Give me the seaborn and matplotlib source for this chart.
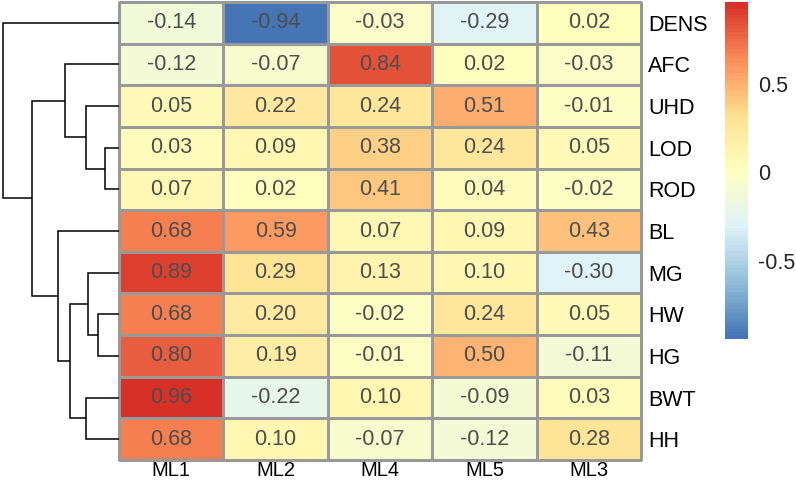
import numpy as np
import pandas as pd
import matplotlib
matplotlib.use("Agg")
import matplotlib.pyplot as plt
from matplotlib.colors import LinearSegmentedColormap, ListedColormap
import seaborn as sns

sns.set_style("white")
plt.rcParams['font.family'] = ['Liberation Sans', 'DejaVu Sans']

rows = ["DENS", "AFC", "UHD", "LOD", "ROD", "BL", "MG", "HW", "HG", "BWT", "HH"]
cols = ["ML1", "ML2", "ML4", "ML5", "ML3"]
ml1 = [-0.14, -0.12, 0.05, 0.03, 0.07, 0.68, 0.89, 0.68, 0.80, 0.96, 0.68]
ml2 = [-0.94, -0.07, 0.22, 0.09, 0.02, 0.59, 0.29, 0.20, 0.19, -0.22, 0.10]
ml4 = [-0.03, 0.84, 0.24, 0.38, 0.41, 0.07, 0.13, -0.02, -0.01, 0.10, -0.07]
ml5 = [-0.29, 0.02, 0.51, 0.24, 0.04, 0.09, 0.10, 0.24, 0.50, -0.09, -0.12]
ml3 = [0.02, -0.03, -0.01, 0.05, -0.02, 0.43, -0.30, 0.05, -0.11, 0.03, 0.28]

# row clustering merges (child a, child b, height); ints refer to earlier merges
merges = [("LOD", "ROD", 14), ("UHD", 0, 33), ("AFC", 1, 54),
          ("HW", "HG", 21), ("MG", 3, 31), ("BWT", "HH", 33),
          (4, 5, 49), ("BL", 6, 61), (2, 7, 87), ("DENS", 8, 116)]
cbar_ticks = [0.5, 0, -0.5]
cbar_ticklabels = ["0.5", "0", "-0.5"]

df = pd.DataFrame({"ML1": ml1, "ML2": ml2, "ML4": ml4, "ML5": ml5, "ML3": ml3}, index=rows)[cols]

base = ["#4575B4", "#91BFDB", "#E0F3F8", "#FFFFBF", "#FEE090", "#FC8D59", "#D73027"]
ramp = LinearSegmentedColormap.from_list("rdylbu_r", base)
cmap = ListedColormap([ramp(i) for i in np.linspace(0, 1, 100)])

W, H = 796, 484
fig = plt.figure(figsize=(W / 100, H / 100), dpi=100)

def rect(x0, y0, x1, y1):
    return [x0 / W, 1 - y1 / H, (x1 - x0) / W, (y1 - y0) / H]

ax = fig.add_axes(rect(119, 2, 641, 460))
cax = fig.add_axes(rect(725, 2, 748, 339))
dax = fig.add_axes(rect(0, 2, 119, 460))

FS = 15.5
vmin, vmax = df.values.min(), df.values.max()
sns.heatmap(df, ax=ax, cmap=cmap, vmin=vmin, vmax=vmax, annot=True, fmt=".2f",
            annot_kws={"color": "#4D4D4D", "fontsize": FS},
            linewidths=0.8, linecolor="#999999", cbar_ax=cax)
ax.collections[0].set_clip_on(False)
ax.yaxis.tick_right()
ax.set_yticklabels(rows, rotation=0, fontsize=FS, color="black")
ax.set_xticklabels(cols, rotation=0, fontsize=14.5, color="black")
ax.tick_params(axis="both", length=0)
ax.tick_params(axis="y", pad=5)
ax.tick_params(axis="x", pad=1)
ax.set_xlabel("")
ax.set_ylabel("")

cb = ax.collections[0].colorbar
cb.outline.set_visible(False)
cb.set_ticks(cbar_ticks)
cb.set_ticklabels(cbar_ticklabels)
cax.tick_params(length=0, labelsize=FS, pad=7)

# dendrogram
pos = {r: i + 0.5 for i, r in enumerate(rows)}
hts = {r: 0.0 for r in rows}
for k, (a, b, h) in enumerate(merges):
    ya, yb = pos[a], pos[b]
    ha, hb = hts[a], hts[b]
    dax.plot([ha, h, h, hb], [ya, ya, yb, yb], color="black", lw=1.1,
             solid_capstyle="butt", solid_joinstyle="miter")
    pos[k] = (ya + yb) / 2
    hts[k] = h
dax.set_xlim(119, 0)
dax.set_ylim(len(rows), 0)
dax.axis("off")

fig.savefig("out.png", dpi=100)
